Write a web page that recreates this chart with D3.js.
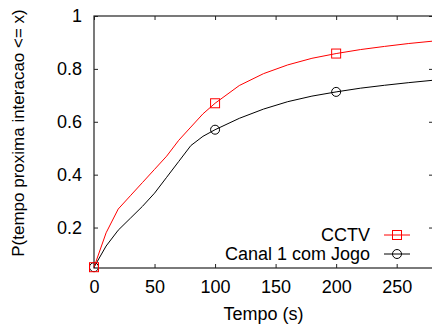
<!DOCTYPE html>
<html>
<head>
<meta charset="utf-8">
<script src="https://cdn.jsdelivr.net/npm/d3@7.9.0/dist/d3.min.js"></script>
<style>
  body { margin: 0; background: #fff; }
  text { font-family: "Liberation Sans", Arial, sans-serif; }
</style>
</head>
<body>
<div id="chart"></div>
<script>
// data
const tempo = [0, 10, 20, 30, 40, 50, 60, 70, 80, 90, 100, 120, 140, 160, 180, 200, 220, 240, 260, 280];
const cctv = [0.05, 0.18, 0.27, 0.32, 0.37, 0.42, 0.47, 0.53, 0.58, 0.63, 0.67, 0.737, 0.782, 0.815, 0.84, 0.858, 0.873, 0.885, 0.896, 0.905];
const canal1 = [0.05, 0.13, 0.19, 0.235, 0.28, 0.33, 0.39, 0.45, 0.51, 0.545, 0.57, 0.613, 0.648, 0.676, 0.697, 0.713, 0.727, 0.738, 0.748, 0.757];
const markerAt = [0, 100, 200];
const xTicks = [0, 50, 100, 150, 200, 250];
const yTicks = [0.2, 0.4, 0.6, 0.8, 1];
const seriesNames = ["CCTV", "Canal 1 com Jogo"];

const width = 432, height = 329;
const margin = { top: 16, right: -1, bottom: 61, left: 94 };

const svg = d3.select("#chart").append("svg")
  .attr("width", width)
  .attr("height", height);

const x = d3.scaleLinear().domain([0, 280]).range([margin.left, width - margin.right]);
const y = d3.scaleLinear().domain([0.047, 1]).range([height - margin.bottom, margin.top]);

const series = [
  { name: seriesNames[0], values: cctv, color: "#ff0000", shape: "square" },
  { name: seriesNames[1], values: canal1, color: "#000000", shape: "circle" }
];

const fontSize = 18;

// axes with inward ticks, mirrored like gnuplot
svg.append("g")
  .attr("transform", `translate(0,${y.range()[0]})`)
  .call(d3.axisBottom(x).tickValues(xTicks).tickSizeInner(-4).tickSizeOuter(0).tickPadding(12))
  .call(g => g.select(".domain").remove())
  .call(g => g.selectAll("text").attr("font-size", fontSize).attr("font-family", "Liberation Sans, Arial, sans-serif").attr("fill", "#000"));

svg.append("g")
  .attr("transform", `translate(0,${margin.top})`)
  .call(d3.axisTop(x).tickValues(xTicks).tickSizeInner(-4).tickSizeOuter(0).tickFormat(""))
  .call(g => g.select(".domain").remove());

svg.append("g")
  .attr("transform", `translate(${margin.left},0)`)
  .call(d3.axisLeft(y).tickValues(yTicks).tickSizeInner(-4).tickSizeOuter(0).tickPadding(12).tickFormat(d3.format("~g")))
  .call(g => g.select(".domain").remove())
  .call(g => g.selectAll("text").attr("font-size", fontSize).attr("font-family", "Liberation Sans, Arial, sans-serif").attr("fill", "#000"));

svg.append("g")
  .attr("transform", `translate(${x.range()[1]},0)`)
  .call(d3.axisRight(y).tickValues(yTicks).tickSizeInner(-4).tickSizeOuter(0).tickFormat(""))
  .call(g => g.select(".domain").remove());

svg.selectAll(".tick line").attr("stroke", "#222");

// frame
svg.append("rect")
  .attr("x", x.range()[0])
  .attr("y", y.range()[1])
  .attr("width", x.range()[1] - x.range()[0])
  .attr("height", y.range()[0] - y.range()[1])
  .attr("fill", "none")
  .attr("stroke", "#222")
  .attr("stroke-width", 1.2);

// axis titles
svg.append("text")
  .attr("x", (x.range()[0] + x.range()[1]) / 2)
  .attr("y", 320)
  .attr("text-anchor", "middle")
  .attr("font-size", fontSize)
  .text("Tempo (s)");

svg.append("text")
  .attr("transform", "translate(24,133) rotate(-90)")
  .attr("text-anchor", "middle")
  .attr("font-size", 17)
  .text("P(tempo proxima interacao <= x)");

const line = d3.line()
  .x((d, i) => x(tempo[i]))
  .y(d => y(d));

function drawMarker(g, shape, cx, cy, color) {
  if (shape === "square") {
    g.append("rect")
      .attr("x", cx - 4.5).attr("y", cy - 4.5)
      .attr("width", 9).attr("height", 9)
      .attr("fill", "none").attr("stroke", color).attr("stroke-width", 1);
  } else {
    g.append("circle")
      .attr("cx", cx).attr("cy", cy).attr("r", 4.5)
      .attr("fill", "none").attr("stroke", color).attr("stroke-width", 1);
  }
}

const plot = svg.append("g");
series.slice().reverse().forEach(s => {
  plot.append("path")
    .datum(s.values)
    .attr("fill", "none")
    .attr("stroke", s.color)
    .attr("stroke-width", 1)
    .attr("d", line);
  markerAt.forEach(t => {
    const i = tempo.indexOf(t);
    drawMarker(plot, s.shape, x(t), y(s.values[i]), s.color);
  });
});

// legend
const legend = svg.append("g");
series.forEach((s, i) => {
  const ly = 235 + i * 19;
  legend.append("text")
    .attr("x", 370)
    .attr("y", ly)
    .attr("dy", "0.35em")
    .attr("text-anchor", "end")
    .attr("font-size", fontSize)
    .text(s.name);
  legend.append("line")
    .attr("x1", 384).attr("x2", 410)
    .attr("y1", ly).attr("y2", ly)
    .attr("stroke", s.color).attr("stroke-width", 1);
  drawMarker(legend, s.shape, 397, ly, s.color);
});
</script>
</body>
</html>
